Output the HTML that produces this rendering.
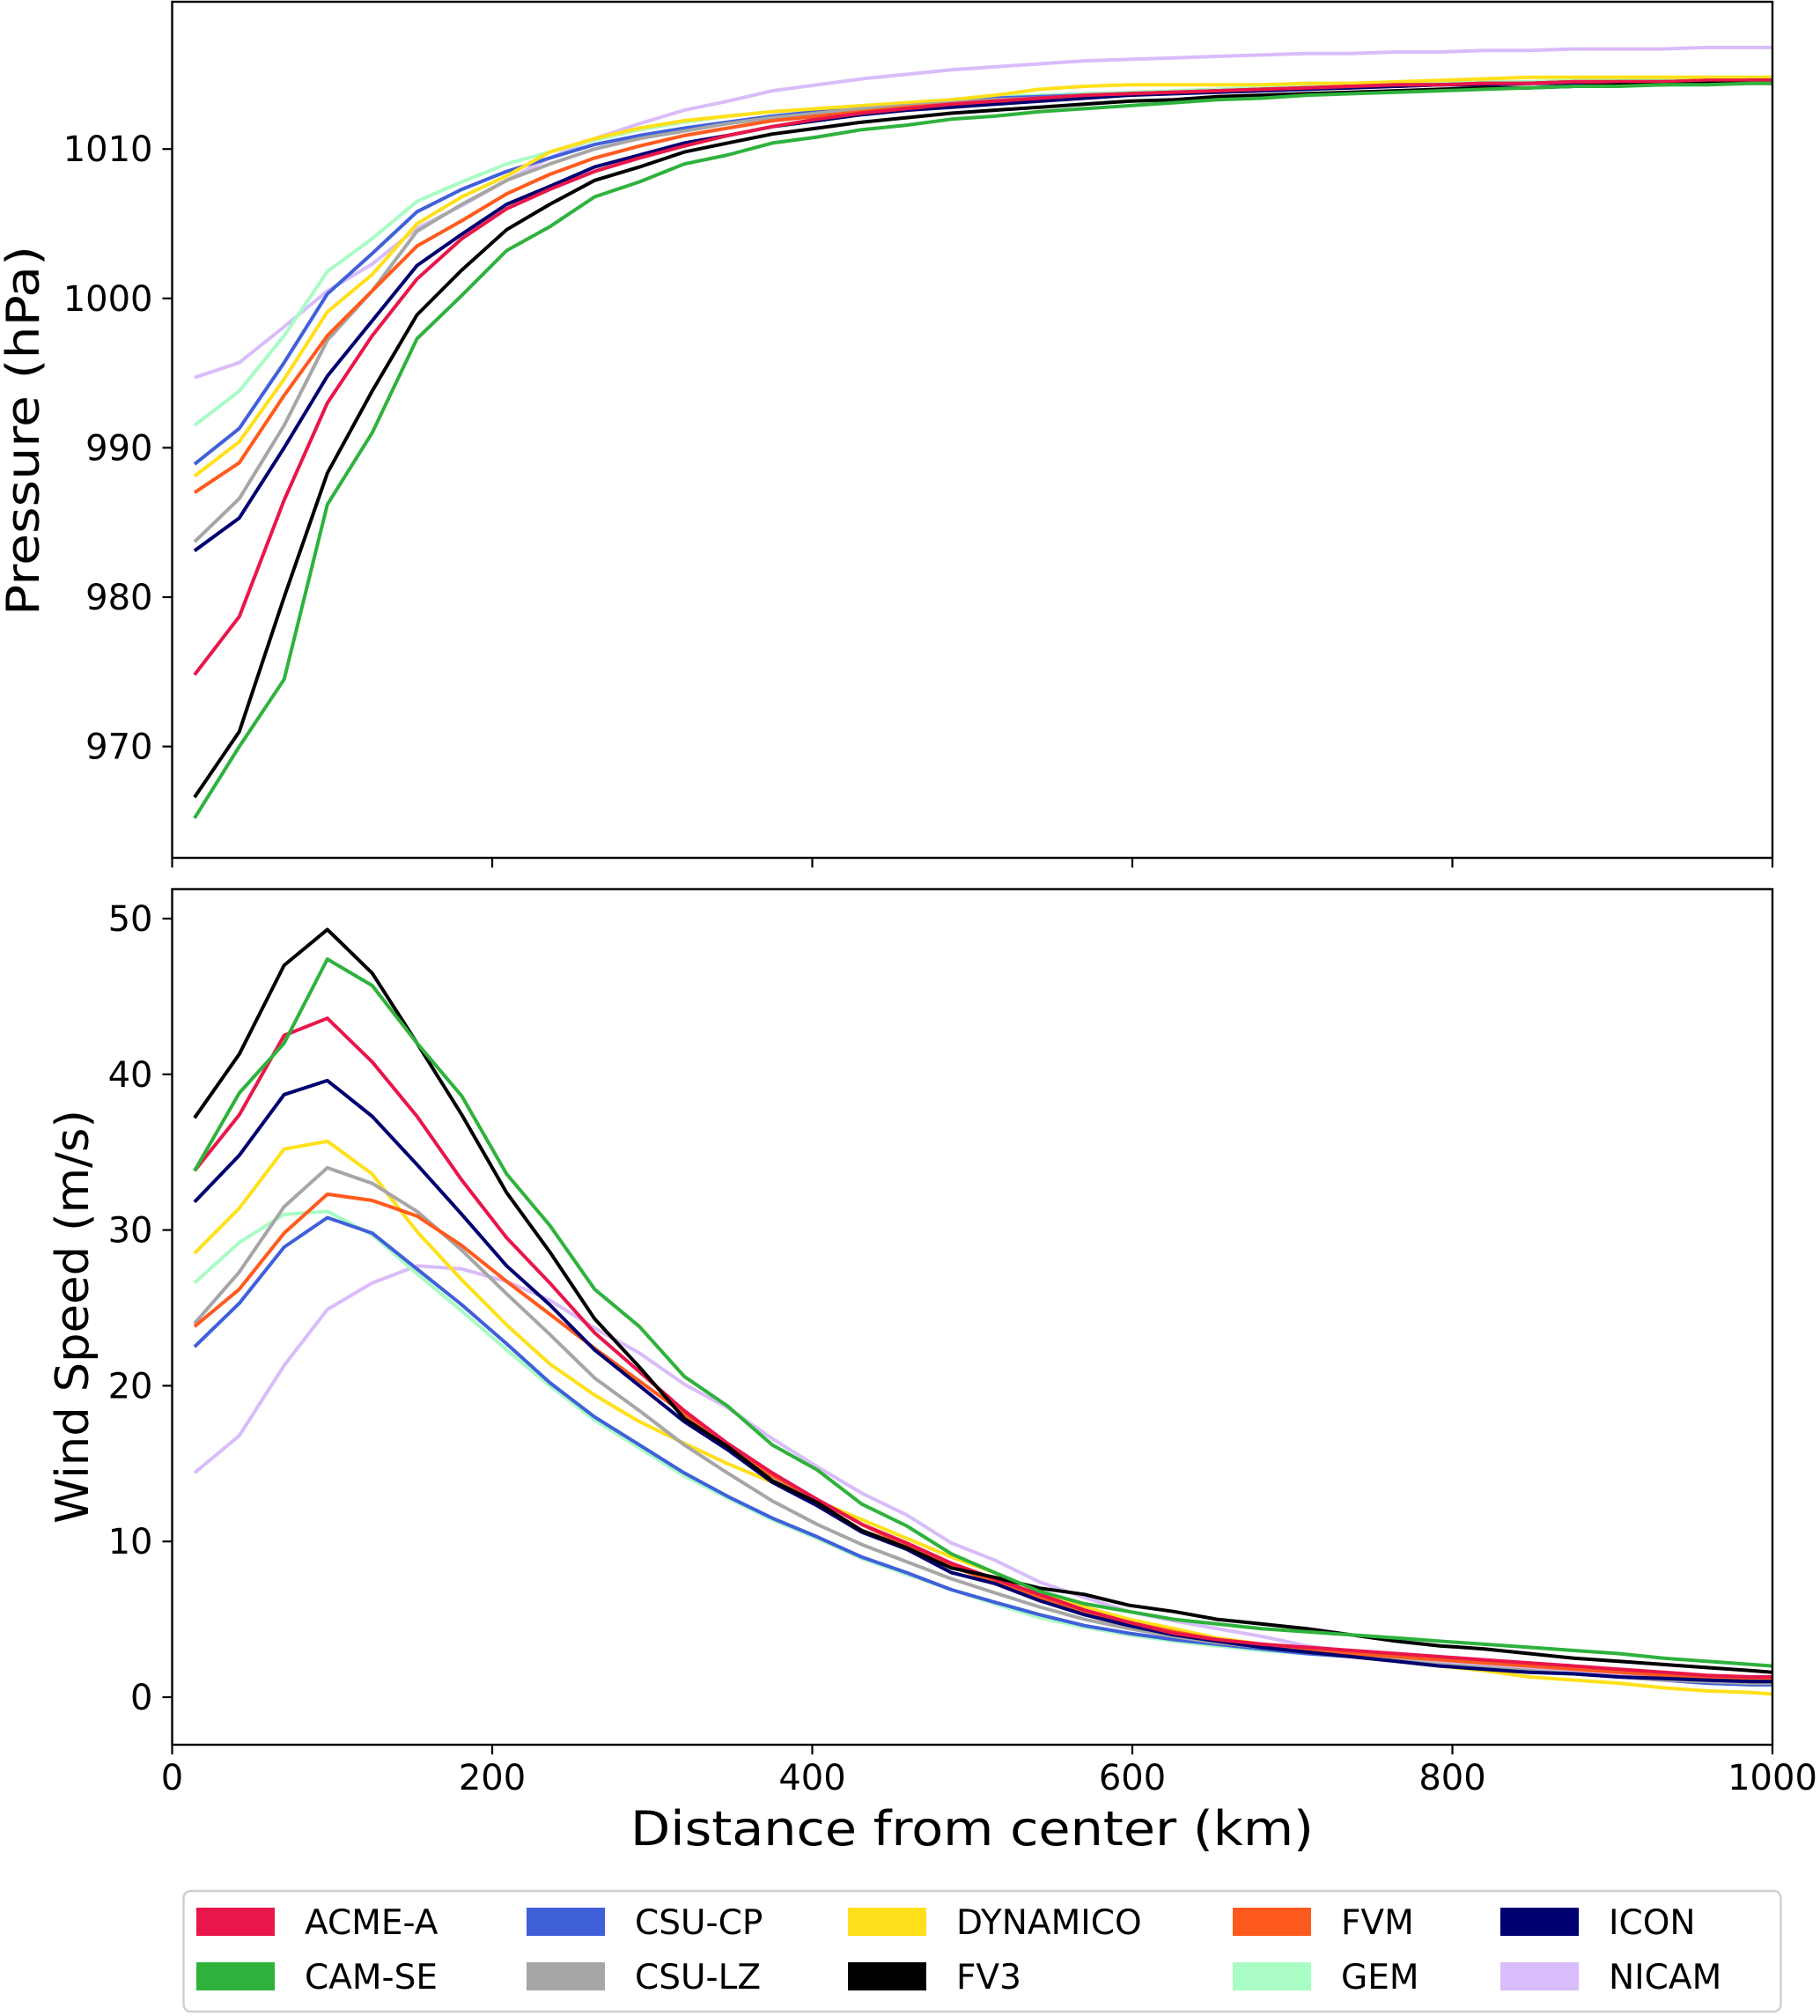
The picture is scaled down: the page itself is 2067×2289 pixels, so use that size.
<!DOCTYPE html>
<html><head><meta charset="utf-8"><style>
html,body{margin:0;padding:0;background:#fff}
svg{display:block;font-family:"DejaVu Sans","Liberation Sans",sans-serif}
</style></head><body>
<svg id="chart" xmlns="http://www.w3.org/2000/svg" width="2067" height="2289" viewBox="0 0 2067 2289"></svg>
<script>
const distances=[14,42,70,97,125,153,181,209,236,264,292,320,347,375,403,431,459,487,514,542,570,598,626,653,681,709,737,765,792,820,848,876,904,932,959,987,1000];
const models=["ACME-A","CAM-SE","CSU-CP","CSU-LZ","DYNAMICO","FV3","FVM","GEM","ICON","NICAM"];
const pressureTicks=[970,980,990,1000,1010];
const windTicks=[0,10,20,30,40,50];
const xTicks=[0,200,400,600,800,1000];
const pACME=[974.8,978.7,986.5,993,997.5,1001.3,1004,1006,1007.3,1008.5,1009.4,1010.2,1010.9,1011.5,1012,1012.4,1012.7,1013,1013.2,1013.4,1013.6,1013.7,1013.8,1013.9,1014,1014.1,1014.2,1014.3,1014.3,1014.4,1014.4,1014.5,1014.5,1014.5,1014.6,1014.6,1014.6];
const pCAM=[965.2,970,974.5,986.2,991,997.3,1000.2,1003.2,1004.8,1006.8,1007.8,1009,1009.6,1010.4,1010.8,1011.3,1011.6,1012,1012.2,1012.5,1012.7,1012.9,1013.1,1013.3,1013.4,1013.6,1013.7,1013.8,1013.9,1014,1014.1,1014.2,1014.2,1014.3,1014.3,1014.4,1014.4];
const pCSUCP=[988.9,991.3,995.7,1000.3,1003,1005.8,1007.3,1008.5,1009.4,1010.3,1010.9,1011.4,1011.8,1012.2,1012.5,1012.7,1013,1013.2,1013.4,1013.5,1013.6,1013.7,1013.8,1013.9,1014,1014.1,1014.2,1014.3,1014.3,1014.4,1014.4,1014.5,1014.5,1014.5,1014.6,1014.6,1014.6];
const pCSULZ=[983.7,986.6,991.5,997.2,1000.5,1004.5,1006.3,1007.9,1009,1010,1010.7,1011.2,1011.7,1012.1,1012.4,1012.7,1012.9,1013.1,1013.3,1013.4,1013.6,1013.7,1013.8,1013.9,1014,1014.1,1014.2,1014.2,1014.3,1014.4,1014.4,1014.5,1014.5,1014.5,1014.6,1014.6,1014.6];
const pDYN=[988.1,990.4,994.6,999.1,1001.6,1005,1006.8,1008.2,1009.8,1010.7,1011.4,1011.9,1012.2,1012.5,1012.7,1012.9,1013.1,1013.3,1013.6,1014,1014.2,1014.3,1014.3,1014.3,1014.3,1014.4,1014.4,1014.5,1014.6,1014.7,1014.8,1014.8,1014.8,1014.8,1014.8,1014.8,1014.8];
const pFV3=[966.6,971,980,988.3,993.8,998.9,1001.9,1004.6,1006.3,1007.9,1008.8,1009.8,1010.4,1011,1011.4,1011.8,1012.1,1012.4,1012.6,1012.8,1013,1013.2,1013.3,1013.5,1013.6,1013.7,1013.8,1013.9,1014,1014.1,1014.1,1014.2,1014.3,1014.3,1014.4,1014.4,1014.4];
const pFVM=[987,989,993.5,997.5,1000.5,1003.5,1005.2,1007,1008.3,1009.4,1010.2,1010.9,1011.4,1011.9,1012.2,1012.5,1012.8,1013,1013.2,1013.4,1013.5,1013.7,1013.8,1013.9,1014,1014.1,1014.2,1014.2,1014.3,1014.4,1014.4,1014.5,1014.5,1014.5,1014.6,1014.6,1014.6];
const pGEM=[991.5,993.8,997.5,1001.8,1004,1006.5,1007.8,1009,1009.8,1010.6,1011.3,1011.8,1012.2,1012.5,1012.7,1012.9,1013.1,1013.3,1013.5,1013.6,1013.7,1013.8,1013.9,1014,1014.1,1014.2,1014.3,1014.3,1014.4,1014.5,1014.5,1014.6,1014.6,1014.7,1014.7,1014.8,1014.8];
const pICON=[983.1,985.3,990,994.8,998.5,1002.2,1004.3,1006.3,1007.5,1008.8,1009.6,1010.4,1010.9,1011.5,1011.9,1012.3,1012.6,1012.8,1013,1013.2,1013.4,1013.6,1013.7,1013.8,1013.9,1014,1014.1,1014.2,1014.3,1014.3,1014.4,1014.4,1014.5,1014.5,1014.5,1014.6,1014.6];
const pNICAM=[994.7,995.7,998.1,1000.5,1002.3,1004.7,1006.2,1007.9,1009.4,1010.7,1011.7,1012.6,1013.2,1013.9,1014.3,1014.7,1015,1015.3,1015.5,1015.7,1015.9,1016,1016.1,1016.2,1016.3,1016.4,1016.4,1016.5,1016.5,1016.6,1016.6,1016.7,1016.7,1016.7,1016.8,1016.8,1016.8];
const wACME=[33.8,37.4,42.5,43.6,40.8,37.3,33.2,29.5,26.6,23.4,20.9,18.4,16.3,14.4,12.7,11.1,9.9,8.6,7.6,6.6,5.6,4.8,4.1,3.7,3.4,3.2,3.0,2.8,2.6,2.4,2.2,2.0,1.8,1.6,1.4,1.3,1.3];
const wCAM=[33.8,38.8,42,47.4,45.7,42,38.6,33.6,30.3,26.2,23.8,20.6,18.7,16.2,14.6,12.4,11,9.2,8,6.8,6,5.5,5,4.7,4.4,4.2,4.0,3.8,3.6,3.4,3.2,3.0,2.8,2.5,2.3,2.1,2.0];
const wCSUCP=[22.5,25.3,28.9,30.8,29.8,27.5,25.2,22.7,20.2,18.0,16.2,14.4,12.9,11.5,10.3,9.0,8.0,6.9,6.1,5.3,4.6,4.1,3.7,3.4,3.1,2.8,2.6,2.3,2.1,1.9,1.7,1.5,1.3,1.1,0.9,0.8,0.8];
const wCSULZ=[24,27.3,31.5,34,33,31.2,28.7,25.9,23.3,20.5,18.4,16.2,14.4,12.6,11.1,9.8,8.7,7.6,6.7,5.8,5.0,4.4,3.9,3.5,3.2,2.9,2.6,2.4,2.1,1.9,1.7,1.5,1.3,1.1,1.0,0.9,0.9];
const wDYN=[28.5,31.4,35.2,35.7,33.6,29.9,26.8,23.9,21.4,19.4,17.7,16.3,15.0,13.8,12.6,11.4,10.2,9.0,8.0,6.8,5.8,5.0,4.4,3.8,3.4,3.0,2.6,2.3,2.0,1.7,1.3,1.1,0.9,0.6,0.4,0.3,0.2];
const wFV3=[37.2,41.3,47,49.3,46.5,42,37.4,32.4,28.6,24.3,21.2,17.9,16.1,13.9,12.5,10.7,9.6,8.3,7.7,7.0,6.6,5.9,5.5,5.0,4.7,4.4,4.0,3.6,3.3,3.1,2.8,2.5,2.3,2.1,1.9,1.7,1.6];
const wFVM=[23.8,26.2,29.8,32.3,31.9,30.9,29.0,26.7,24.6,22.4,20.3,18.2,16.2,14.2,12.7,11.1,9.7,8.4,7.4,6.4,5.5,4.8,4.2,3.7,3.4,3.1,2.8,2.6,2.4,2.2,2.0,1.8,1.6,1.4,1.3,1.1,1.1];
const wGEM=[26.6,29.2,31,31.2,29.7,27.2,24.8,22.3,20.0,17.8,16.0,14.2,12.8,11.4,10.2,8.9,7.9,6.9,6.0,5.1,4.5,4.0,3.6,3.3,3.0,2.8,2.6,2.4,2.1,1.9,1.7,1.5,1.3,1.2,1.1,1.0,1.0];
const wICON=[31.8,34.8,38.7,39.6,37.3,34.2,31.0,27.7,25.2,22.3,20.0,17.7,15.9,13.8,12.3,10.6,9.5,8.0,7.3,6.2,5.3,4.6,4.0,3.6,3.2,2.9,2.6,2.3,2.0,1.8,1.6,1.5,1.3,1.2,1.1,1.0,1.0];
const wNICAM=[14.4,16.8,21.3,24.9,26.6,27.7,27.5,26.7,25.5,23.7,22.1,20.1,18.6,16.6,14.8,13.1,11.7,9.9,8.8,7.4,6.4,5.5,4.9,4.4,3.9,3.3,2.9,2.4,2.2,2.0,1.8,1.6,1.4,1.2,1.0,0.9,0.9];

const colors={"ACME-A":"#e8164a","CAM-SE":"#2eb23c","CSU-CP":"#4060da","CSU-LZ":"#a6a6a6","DYNAMICO":"#ffe01a","FV3":"#000000","FVM":"#ff5a1e","GEM":"#a8fcc4","ICON":"#000070","NICAM":"#d9bcfa"};
const pSeries={"ACME-A":pACME,"CAM-SE":pCAM,"CSU-CP":pCSUCP,"CSU-LZ":pCSULZ,"DYNAMICO":pDYN,"FV3":pFV3,"FVM":pFVM,"GEM":pGEM,"ICON":pICON,"NICAM":pNICAM};
const wSeries={"ACME-A":wACME,"CAM-SE":wCAM,"CSU-CP":wCSUCP,"CSU-LZ":wCSULZ,"DYNAMICO":wDYN,"FV3":wFV3,"FVM":wFVM,"GEM":wGEM,"ICON":wICON,"NICAM":wNICAM};
const drawOrder=["NICAM","GEM","CSU-CP","DYNAMICO","CSU-LZ","FVM","ICON","ACME-A","FV3","CAM-SE"];

const NS="http://www.w3.org/2000/svg";
const svg=document.getElementById('chart');
function mk(tag,attrs,parent){const e=document.createElementNS(NS,tag);for(const k in attrs)e.setAttribute(k,attrs[k]);(parent||svg).appendChild(e);return e;}
const L=195.5,R=2013;
const xs=d=>L+(d/1000)*(R-L);
const yP=p=>169.2+(1010-p)*16.96;
const yW=w=>1927-w*17.68;
const panels=[{top:2,bot:974,y:yP,series:pSeries,ticks:pressureTicks,name:"pressure"},{top:1009.5,bot:1981,y:yW,series:wSeries,ticks:windTicks,name:"wind"}];

panels.forEach(pn=>{
  const g=mk('g',{});
  
  
  const clipId='clip-'+pn.name;
  const cp=mk('clipPath',{id:clipId},g);
  mk('rect',{x:L,y:pn.top,width:R-L,height:pn.bot-pn.top},cp);
  drawOrder.forEach(m=>{
    const pts=pn.series[m].map((v,i)=>xs(distances[i]).toFixed(1)+','+pn.y(v).toFixed(1)).join(' ');
    const pl=mk('polyline',{points:pts,fill:'none',stroke:colors[m],'stroke-width':4,'stroke-linejoin':'round','clip-path':'url(#'+clipId+')'},g);
    
    
  });
  const fr=mk('rect',{x:L,y:pn.top,width:R-L,height:pn.bot-pn.top,fill:'none',stroke:'#000','stroke-width':2.4},g);
  
  
  pn.ticks.forEach(t=>{
    const y=pn.y(t);
    mk('line',{x1:L-11,x2:L,y1:y,y2:y,stroke:'#000','stroke-width':2.2},g);
    const tx=mk('text',{x:L-22,y:y+14,'text-anchor':'end','font-size':40},g);
    tx.textContent=t;
    
    
  });
  xTicks.forEach(t=>{
    mk('line',{x1:xs(t),x2:xs(t),y1:pn.bot,y2:pn.bot+11,stroke:'#000','stroke-width':2.2},g);
  });
});
xTicks.forEach(t=>{
  const tx=mk('text',{x:xs(t),y:2032,'text-anchor':'middle','font-size':40});
  tx.textContent=t;
  
  
});
let t=mk('text',{x:0,y:0,'text-anchor':'middle','font-size':52,textLength:420,lengthAdjust:'spacingAndGlyphs',transform:'translate(44,489) rotate(-90)'});
t.textContent='Pressure (hPa)';


t=mk('text',{x:0,y:0,'text-anchor':'middle','font-size':52,textLength:470,lengthAdjust:'spacingAndGlyphs',transform:'translate(100,1495) rotate(-90)'});
t.textContent='Wind Speed (m/s)';


t=mk('text',{x:1104,y:2095,'text-anchor':'middle','font-size':54,textLength:776,lengthAdjust:'spacingAndGlyphs'});
t.textContent='Distance from center (km)';



const lg=mk('g',{});


mk('rect',{x:208.5,y:2147,width:1814,height:137,rx:8,fill:'#fff',stroke:'#d0d0d0','stroke-width':2.5},lg);
const colX=[223,598,963,1400,1704];
const rowY=[2182,2244];
models.forEach((m,i)=>{
  const c=Math.floor(i/2),r=i%2;
  const eg=mk('g',{},lg);
  
  
  mk('rect',{x:colX[c],y:rowY[r]-16,width:89,height:32,fill:colors[m]},eg);
  const tx=mk('text',{x:colX[c]+123,y:rowY[r]+14,'font-size':39},eg);
  tx.textContent=m;
});
</script>
</body></html>
